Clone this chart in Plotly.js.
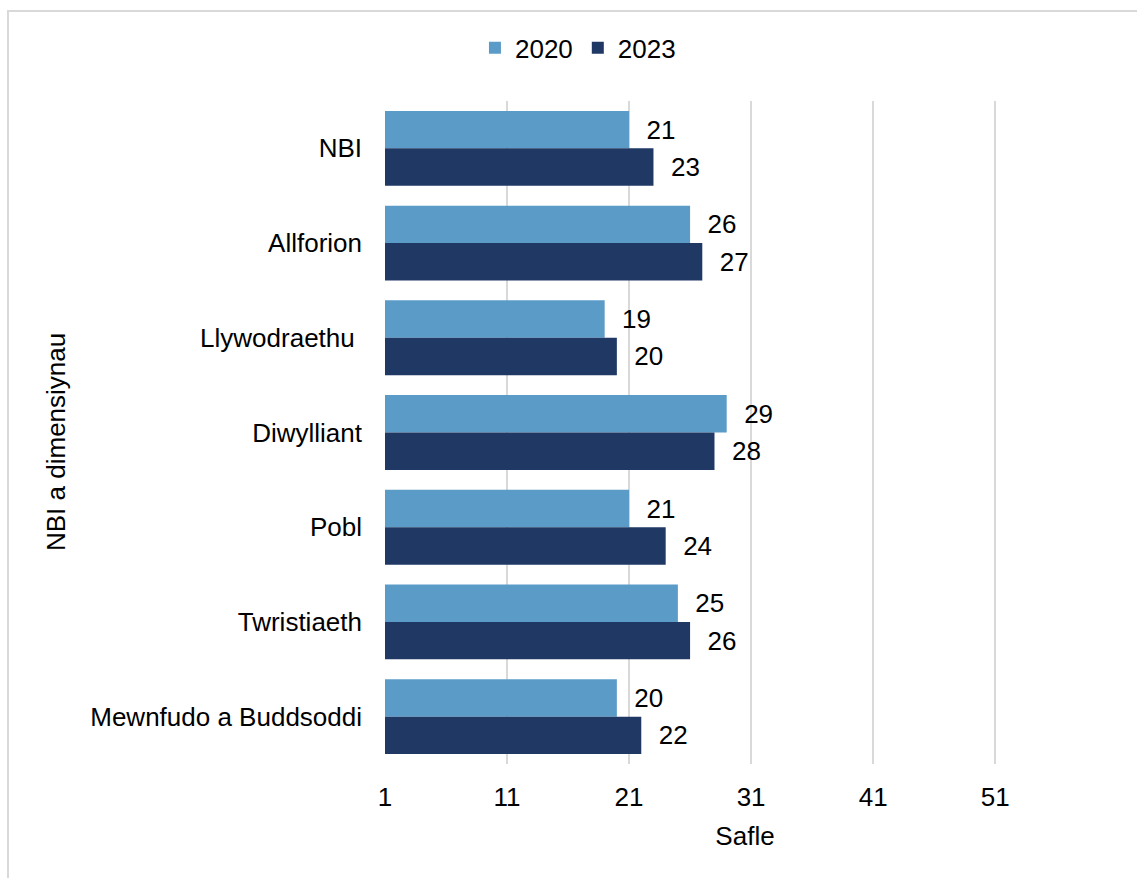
<!DOCTYPE html>
<html>
<head>
<meta charset="utf-8">
<script src="https://cdn.plot.ly/plotly-3.0.1.min.js"></script>
<style>
  html, body { margin: 0; padding: 0; background: #fff; }
  #chart { position: absolute; left: 0; top: 0; width: 1137px; height: 878px; }
  #frame { position: absolute; left: 7px; top: 10px; width: 1200px; height: 1000px;
           border-top: 2px solid #d9d9d9; border-left: 2px solid #d9d9d9;
           pointer-events: none; z-index: 5; }
</style>
</head>
<body>
<div id="chart"></div>
<div id="frame"></div>
<script>
const categories = ["NBI", "Allforion", "Llywodraethu\u00a0", "Diwylliant", "Pobl", "Twristiaeth", "Mewnfudo a Buddsoddi"];
const values2020 = [21, 26, 19, 29, 21, 25, 20];
const values2023 = [23, 27, 20, 28, 24, 26, 22];
const seriesNames = ["2020", "2023"];
const tickValues = [1, 11, 21, 31, 41, 51];

const FONT = "Liberation Sans, Arial, sans-serif";
const FS = 26;

function barTrace(name, vals, color) {
  return {
    type: "bar",
    orientation: "h",
    name: name,
    y: categories,
    x: vals,
    base: 0,
    marker: { color: color },
    texttemplate: "\u00a0\u00a0%{x}",
    textposition: "outside",
    cliponaxis: false,
    constraintext: "none",
    textfont: { family: FONT, size: FS, color: "#000" },
    hoverinfo: "skip"
  };
}

const data = [
  barTrace(seriesNames[0], values2020, "#5B9BC8"),
  barTrace(seriesNames[1], values2023, "#203864")
];

const layout = {
  width: 1137,
  height: 878,
  margin: { l: 385, r: 32, t: 101, b: 114 },
  paper_bgcolor: "#fff",
  plot_bgcolor: "#fff",
  font: { family: FONT, size: FS, color: "#000" },
  barmode: "group",
  bargap: 0.21,
  bargroupgap: 0,
  showlegend: true,
  legend: {
    orientation: "h",
    x: 0.268, xanchor: "center",
    y: 1.08, yanchor: "middle",
    font: { family: FONT, size: FS, color: "#000" },
    traceorder: "normal",
    itemwidth: 30
  },
  xaxis: {
    range: [1, 60],
    tickvals: tickValues,
    ticktext: tickValues.map(String),
    showgrid: true,
    gridcolor: "#d9d9d9",
    gridwidth: 2,
    zeroline: false,
    showline: false,
    ticks: "",
    ticklabelstandoff: 15,
    tickfont: { family: FONT, size: FS, color: "#000" },
    title: { text: "Safle", font: { family: FONT, size: FS, color: "#000" }, standoff: 15 },
    fixedrange: true
  },
  yaxis: {
    type: "category",
    autorange: "reversed",
    showgrid: false,
    zeroline: false,
    showline: false,
    ticks: "",
    ticklabelstandoff: 22,
    tickfont: { family: FONT, size: FS, color: "#000" },
    fixedrange: true
  },
  annotations: [{
    text: "NBI a dimensiynau",
    xref: "paper", yref: "paper",
    x: (56 - 385) / 720, y: (764 - 442) / 663,
    xanchor: "center", yanchor: "middle",
    textangle: -90,
    showarrow: false,
    font: { family: FONT, size: FS, color: "#000" }
  }]
};

Plotly.newPlot("chart", data, layout, { displayModeBar: false, staticPlot: true });
</script>
</body>
</html>
